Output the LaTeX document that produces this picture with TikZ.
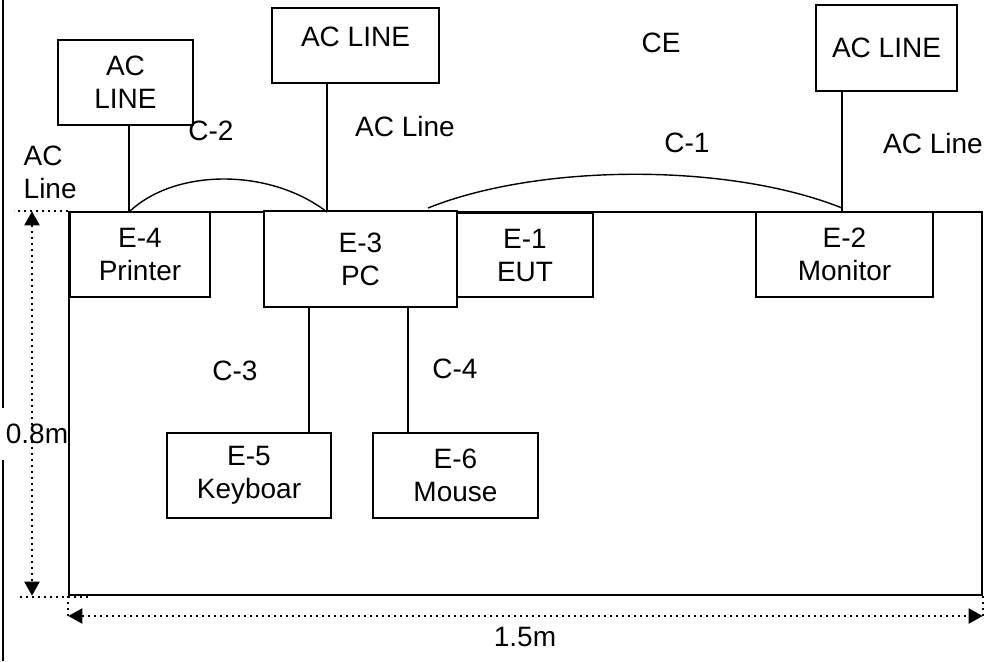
\documentclass[tikz,border=0pt]{standalone}
\usepackage{fontspec}
\setmainfont{Liberation Sans}
\usetikzlibrary{arrows.meta, calc}

\begin{document}
\begin{tikzpicture}[x=0.5pt, y=-0.5pt, line width=0.7pt,
    every node/.style={font=\fontsize{14}{16.5}\selectfont},
    box/.style={draw, fill=white, align=center, inner sep=0pt},
    lbl/.style={inner sep=0pt},
    dimline/.style={dotted, line width=1pt},
    dimarrow/.style={dimline, {Triangle[length=7pt,width=7.5pt]}-{Triangle[length=7pt,width=7.5pt]}}]
          \useasboundingbox (0,0) rectangle (990,661);
          \draw[line width=1.2pt] (3,0) -- (3,661);
          \node[lbl, fill=white, inner xsep=3pt, inner ysep=8pt] (hgt) at (37,434) {0.8m};
          \node[draw, inner sep=0pt, minimum width=456.5pt, minimum height=191.5pt] (tbl) at (525.5,403.5) {};
          \node[box, minimum width=67.5pt, minimum height=42.5pt] (acl) at (125.5,82.5) {AC\\LINE};
          \node[box, minimum width=83.5pt, minimum height=37.5pt, text depth=9pt] (acm) at (355.5,45.5) {AC LINE};
          \node[box, minimum width=70.5pt, minimum height=43pt] (acr) at (886.5,48) {AC LINE};
          \node[box, minimum width=70pt, minimum height=42.5pt] (e4) at (140,254.5) {E-4\\Printer};
          \node[box, minimum width=96.5pt, minimum height=48pt] (e3) at (360.5,259) {E-3\\PC};
          \node[box, minimum width=68pt, minimum height=42pt] (e1) at (525,255) {E-1\\EUT};
          \node[box, minimum width=88.5pt, minimum height=42.5pt] (e2) at (844.5,254.5) {E-2\\Monitor};
          \node[box, minimum width=82pt, minimum height=42.5pt] (e5) at (249,475.5) {E-5\\Keyboar};
          \node[box, minimum width=82.5pt, minimum height=42.5pt] (e6) at (455.5,475.5) {E-6\\Mouse};
          \coordinate (jl) at (129,212);
          \coordinate (jm) at (327,212);
          \coordinate (jc) at (428,208);
          \coordinate (jr) at (842,212);
          \coordinate (k3) at (309,0);
          \coordinate (k4) at (408,0);
          \draw (acl.south -| jl) -- (jl);
          \draw (acm.south -| jm) -- (jm);
          \draw (acr.south -| jr) -- (jr);
          \draw (jl) .. controls (175,168) and (270,168) .. (jm);
          \draw (jc) .. controls (540,163) and (730,163) .. ($(jr)+(0,-4)$);
          \draw (e3.south -| k3) -- (e5.north -| k3);
          \draw (e3.south -| k4) -- (e6.north -| k4);
          \node[lbl, anchor=west, align=left] (acll) at (23,172) {AC\\Line};
          \node[lbl] (c2) at (211,131) {C-2};
          \node[lbl] (acml) at (405,126) {AC Line};
          \node[lbl] (ce) at (661,43) {CE};
          \node[lbl] (c1) at (687,143) {C-1};
          \node[lbl] (acrl) at (933,143) {AC Line};
          \node[lbl] (c3) at (235,371) {C-3};
          \node[lbl] (c4) at (455,369) {C-4};
          \node[lbl] (wid) at (525,637) {1.5m};
          \coordinate (dv) at (32,0);
          \coordinate (dh) at (0,616);
          \draw[dimline] (tbl.north west) -- ($(tbl.north west)+(-54,0)$);
          \draw[dimline] ($(tbl.south west)+(-48,1)$) -- ($(tbl.south west)+(21,1)$);
          \draw[dimline] (tbl.south west) -- (tbl.south west |- dh);
          \draw[dimline] (tbl.south east) -- (tbl.south east |- dh);
          \draw[dimarrow] (tbl.north west -| dv) -- (tbl.south west -| dv);
          \draw[dimarrow] (tbl.south west |- dh) -- (tbl.south east |- dh);
        \end{tikzpicture}
\end{document}
